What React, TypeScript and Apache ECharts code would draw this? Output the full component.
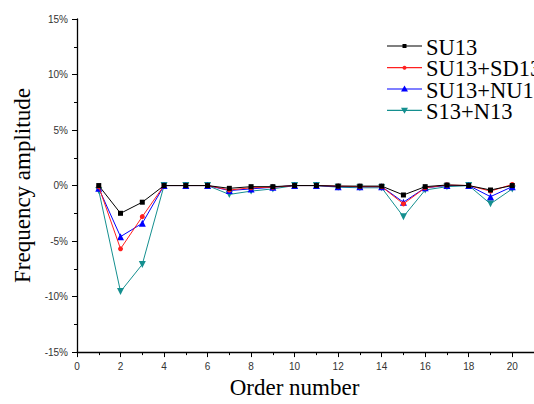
import React, { useEffect, useRef } from "react";
import * as echarts from "echarts";

const orders = [1, 2, 3, 4, 5, 6, 7, 8, 9, 10, 11, 12, 13, 14, 15, 16, 17, 18, 19, 20];
const su13 = [0, -2.5, -1.5, 0, 0, 0, -0.25, -0.1, -0.1, 0, 0, -0.05, -0.05, -0.05, -0.85, -0.1, 0.05, 0, -0.4, 0];
const su13sd = [-0.1, -5.7, -2.8, 0, 0, 0, -0.4, -0.2, -0.15, 0, 0, -0.05, -0.1, -0.1, -1.65, -0.2, 0.05, 0, -0.5, 0.1];
const su13nu = [-0.25, -4.6, -3.4, 0, 0, 0, -0.45, -0.3, -0.15, 0, 0, -0.1, -0.1, -0.1, -1.5, -0.2, 0, 0, -1.0, -0.1];
const s13n13 = [-0.45, -9.55, -7.1, 0, 0, 0, -0.8, -0.5, -0.3, 0, 0, -0.15, -0.2, -0.2, -2.8, -0.4, -0.1, 0, -1.65, -0.3];
const seriesNames = ["SU13", "SU13+SD13", "SU13+NU13", "S13+N13"];
const colors = ["#000000", "#ff2020", "#0000ff", "#148f8f"];
const symbols = ["rect", "circle", "triangle", "path://M0,0 L10,0 L5,10 Z"];
const symbolSizes = [5, 5, 7, 7];

const serif = "Liberation Serif";

function legendMarker(i: number, cx: number, cy: number) {
  const c = colors[i];
  if (i === 0) return { type: "rect", shape: { x: cx - 2, y: cy - 2, width: 4, height: 4 }, style: { fill: c } };
  if (i === 1) return { type: "circle", shape: { cx, cy, r: 2 }, style: { fill: c } };
  if (i === 2)
    return { type: "polygon", shape: { points: [[cx - 3.5, cy + 2.5], [cx + 3.5, cy + 2.5], [cx, cy - 3.5]] }, style: { fill: c } };
  return { type: "polygon", shape: { points: [[cx - 3.5, cy - 2.5], [cx + 3.5, cy - 2.5], [cx, cy + 3.5]] }, style: { fill: c } };
}

export default function App() {
  const ref = useRef<HTMLDivElement>(null);
  useEffect(() => {
    if (!ref.current) return;
    const chart = echarts.init(ref.current, null, { renderer: "svg" });
    const datasets = [su13, su13sd, su13nu, s13n13];
    const legendY = [46, 67.7, 89, 110.3];
    const legendGraphics: any[] = [];
    seriesNames.forEach((name, i) => {
      const y = legendY[i];
      legendGraphics.push({
        type: "line",
        shape: { x1: 387, y1: y, x2: 422, y2: y },
        style: { stroke: colors[i], lineWidth: 1.2 },
      });
      legendGraphics.push(legendMarker(i, 404.5, y));
      legendGraphics.push({
        type: "text",
        x: 426,
        y: y + 1,
        style: {
          text: name,
          fontFamily: serif,
          fontSize: 22.5,
          lineHeight: 20,
          fill: "#000",
          verticalAlign: "middle",
          align: "left",
        },
      });
    });
    chart.setOption({
      animation: false,
      backgroundColor: "#ffffff",
      textStyle: { fontFamily: serif },
      grid: { left: 77, right: 0, top: 19, bottom: 45 },
      graphic: legendGraphics,
      xAxis: {
        type: "value",
        min: 0,
        max: 21,
        interval: 2,
        name: "Order number",
        nameLocation: "middle",
        nameGap: 23,
        nameTextStyle: {
          fontFamily: serif,
          fontSize: 23,
          color: "#000",
          padding: [0, 22, 0, 0],
        },
        axisLine: { show: true, onZero: false, lineStyle: { color: "#000", width: 1.3 } },
        axisTick: { show: true, inside: false, length: 5, lineStyle: { color: "#000" } },
        minorTick: { show: true, splitNumber: 2, length: 3, lineStyle: { color: "#000" } },
        splitLine: { show: false },
        axisLabel: {
          margin: 9,
          fontFamily: "Liberation Sans",
          fontSize: 10,
          color: "#333",
          showMaxLabel: false,
        },
      },
      yAxis: {
        type: "value",
        min: -15,
        max: 15,
        interval: 5,
        name: "Frequency amplitude",
        nameLocation: "middle",
        nameGap: 32,
        nameTextStyle: {
          fontFamily: serif,
          fontSize: 23,
          color: "#000",
        },
        axisLine: { show: true, onZero: false, lineStyle: { color: "#000", width: 1.3 } },
        axisTick: { show: true, inside: false, length: 5, lineStyle: { color: "#000" } },
        minorTick: { show: true, splitNumber: 2, length: 3, lineStyle: { color: "#000" } },
        splitLine: { show: false },
        axisLabel: {
          margin: 9,
          fontFamily: "Liberation Sans",
          fontSize: 10,
          color: "#333",
          formatter: (v: number) => `${v}%`,
        },
      },
      series: seriesNames.map((name, i) => ({
        name,
        type: "line",
        data: orders.map((o, j) => [o, datasets[i][j]]),
        symbol: symbols[i],
        symbolSize: symbolSizes[i],
        itemStyle: { color: colors[i] },
        lineStyle: { color: colors[i], width: 1 },
        z: 10 - i,
      })),
    });
    return () => chart.dispose();
  }, []);
  return (
    <div
      ref={ref}
      style={{ position: "fixed", left: 0, top: 0, width: 534, height: 404 }}
    />
  );
}
